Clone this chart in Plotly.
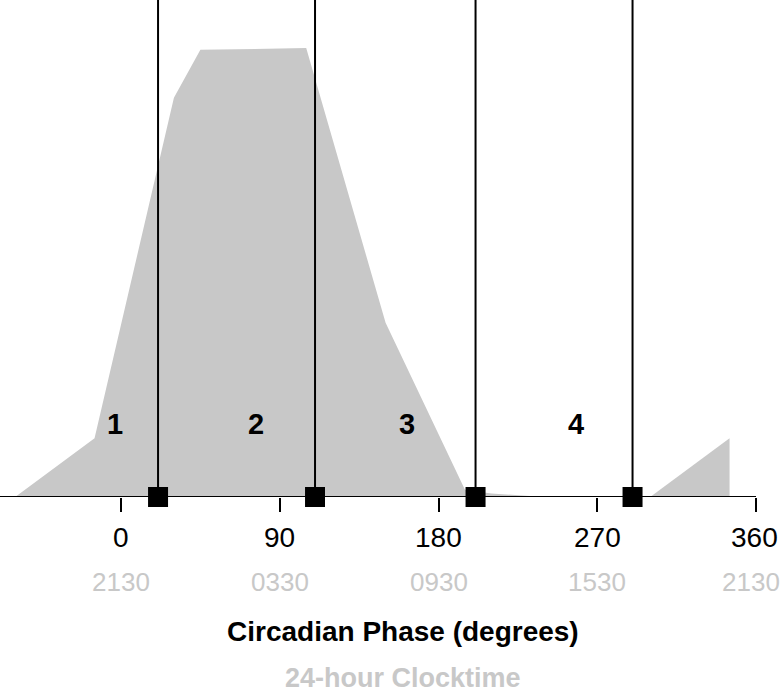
import plotly.graph_objects as go

# Data
phase_deg = [-60, -15, 30, 45, 105, 150, 195, 210, 240]
density = [0, 13.1, 88.9, 99.6, 100, 38.8, 1.6, 0.8, 0]
boundaries = [21, 110, 201, 290]
region_labels = ["1", "2", "3", "4"]
region_label_x = [-3.5, 76.5, 162, 258]
tick_degrees = [0, 90, 180, 270, 360]
tick_clock = ["2130", "0330", "0930", "1530", "2130"]

FONT = "Liberation Sans, Arial, sans-serif"
GREY = "rgb(200,200,200)"
YMAX = 110.7
XMIN, XMAX = -68.6, 370.2

# wrapped part of the distribution (phase + 360 for the portion before -15 deg)
wrap_x = [p + 360 for p in phase_deg if p <= -15]
wrap_y = [d for p, d in zip(phase_deg, density) if p <= -15]
wrap_x = wrap_x + [wrap_x[-1]]
wrap_y = wrap_y + [0]

fig = go.Figure()
fig.add_trace(go.Scatter(x=phase_deg, y=density, fill="tozeroy", mode="lines",
                         line=dict(width=0, color=GREY), fillcolor=GREY,
                         showlegend=False, hoverinfo="skip"))
fig.add_trace(go.Scatter(x=wrap_x, y=wrap_y, fill="tozeroy", mode="lines",
                         line=dict(width=0, color=GREY), fillcolor=GREY,
                         showlegend=False, hoverinfo="skip"))

for b in boundaries:
    fig.add_trace(go.Scatter(x=[b, b], y=[0, YMAX], mode="lines",
                             line=dict(color="black", width=2),
                             showlegend=False, hoverinfo="skip"))

fig.add_trace(go.Scatter(x=boundaries, y=[0] * len(boundaries), mode="markers",
                         marker=dict(symbol="square", size=20, color="black"),
                         cliponaxis=False, showlegend=False))

# axis baseline
fig.add_shape(type="line", x0=XMIN, x1=360, y0=0, y1=0, xref="x", yref="y",
              line=dict(color="black", width=2), layer="above")

annotations = []
for lx, lt in zip(region_label_x, region_labels):
    annotations.append(dict(x=lx, y=16.3, xref="x", yref="y", text=f"<b>{lt}</b>",
                            showarrow=False, font=dict(family=FONT, size=29, color="black")))
for i, (tv, tc) in enumerate(zip(tick_degrees, tick_clock)):
    last = i == len(tick_degrees) - 1
    annotations.append(dict(x=tv, y=0, xref="x", yref="paper", text=str(tv),
                            showarrow=False, yanchor="middle", yshift=-40,
                            xshift=-2 if last else 0,
                            font=dict(family=FONT, size=28, color="black")))
    annotations.append(dict(x=tv, y=0, xref="x", yref="paper", text=tc,
                            showarrow=False, yanchor="middle", yshift=-85,
                            xshift=-5 if last else 0,
                            font=dict(family=FONT, size=26, color=GREY)))
annotations.append(dict(x=160, y=0, xref="x", yref="paper",
                        text="<b>Circadian Phase (degrees)</b>", showarrow=False,
                        yanchor="middle", yshift=-134,
                        font=dict(family=FONT, size=28, color="black")))
annotations.append(dict(x=160, y=0, xref="x", yref="paper",
                        text="<b>24-hour Clocktime</b>", showarrow=False,
                        yanchor="middle", yshift=-181,
                        font=dict(family=FONT, size=27, color=GREY)))

fig.update_layout(
    width=784, height=697,
    margin=dict(l=0, r=10, t=0, b=200),
    plot_bgcolor="white", paper_bgcolor="white",
    annotations=annotations,
    xaxis=dict(range=[XMIN, XMAX], showgrid=False, zeroline=False, showline=False,
               tickvals=tick_degrees, ticks="outside", ticklen=14, tickwidth=2,
               tickcolor="black", showticklabels=False, fixedrange=True),
    yaxis=dict(range=[0, YMAX], showgrid=False, zeroline=False, showline=False,
               showticklabels=False, ticks="", fixedrange=True),
)

fig.write_html("out.html", config={"displayModeBar": False},
               post_script="document.body.style.margin='0';document.body.style.overflow='hidden';")
